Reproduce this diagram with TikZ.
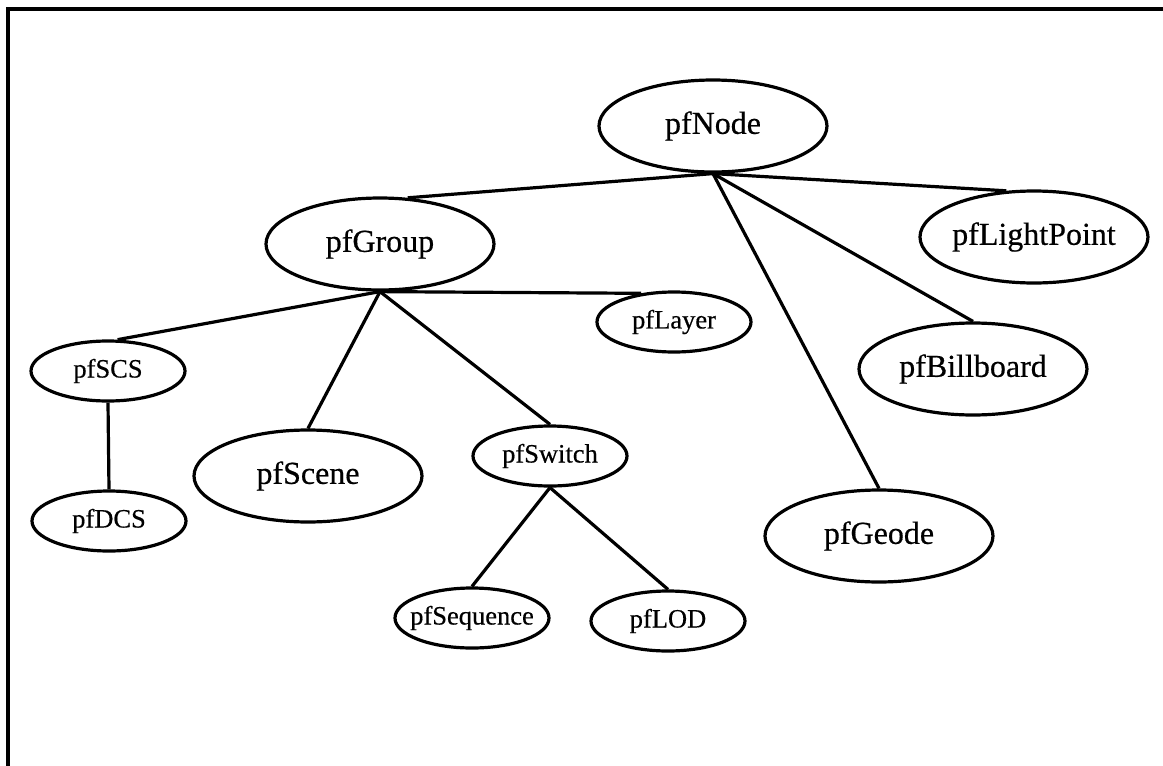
\documentclass[tikz,border=0pt]{standalone}
\usepackage{fontspec}
\setmainfont{Liberation Serif}[UprightFeatures={FakeBold=0.5}]
\usetikzlibrary{shapes.geometric}
\newcommand\nodetext[1]{\makebox[0pt]{#1}}
\begin{document}
\begin{tikzpicture}[x=1pt,y=-1pt,
  big/.style={ellipse,draw,line width=3.2pt,inner sep=0pt,minimum width=228pt,minimum height=92pt,font=\fontsize{32}{38}\selectfont},
  small/.style={ellipse,draw,line width=3.2pt,inner sep=0pt,minimum width=154pt,minimum height=60pt,font=\fontsize{26.5}{32}\selectfont},
  link/.style={line width=3.2pt},
  frame/.style={line width=3.2pt,line join=miter}]
\useasboundingbox (0,0) rectangle (1163,766);
\coordinate (frameBL) at (8,770);
\coordinate (frameTL) at (8,9);
\coordinate (frameTR) at (1167,9);
\draw[frame] (frameBL) -- (frameTL) -- (frameTR);

\node[big] (pfNode) at (713,126) {\nodetext{pfNode}};
\node[big] (pfGroup) at (380,244) {\nodetext{pfGroup}};
\node[big] (pfLightPoint) at (1034,237) {\nodetext{pfLightPoint}};
\node[big] (pfBillboard) at (973,369) {\nodetext{pfBillboard}};
\node[big] (pfScene) at (308,476) {\nodetext{pfScene}};
\node[big] (pfGeode) at (879,536) {\nodetext{pfGeode}};

\node[small] (pfLayer) at (674,322) {\nodetext{pfLayer}};
\node[small] (pfSCS) at (108,371) {\nodetext{pfSCS}};
\node[small] (pfDCS) at (109,521) {\nodetext{pfDCS}};
\node[small] (pfSwitch) at (550,456) {\nodetext{pfSwitch}};
\node[small] (pfSequence) at (472,618) {\nodetext{pfSequence}};
\node[small] (pfLOD) at (668,621) {\nodetext{pfLOD}};

\draw[link] (pfNode.south) -- (pfGroup.59);
\draw[link] (pfNode.south) -- (pfLightPoint.121);
\draw[link] (pfNode.south) -- (pfBillboard.north);
\draw[link] (pfNode.south) -- (pfGeode.north);
\draw[link] (pfGroup.south) -- (pfSCS.73);
\draw[link] (pfGroup.south) -- (pfScene.north);
\draw[link] (pfGroup.south) -- (pfSwitch.north);
\draw[link] (pfGroup.south) -- (pfLayer.139);
\draw[link] (pfSCS.south) -- (pfDCS.north);
\draw[link] (pfSwitch.south) -- (pfSequence.north);
\draw[link] (pfSwitch.south) -- (pfLOD.north);
\end{tikzpicture}
\end{document}
